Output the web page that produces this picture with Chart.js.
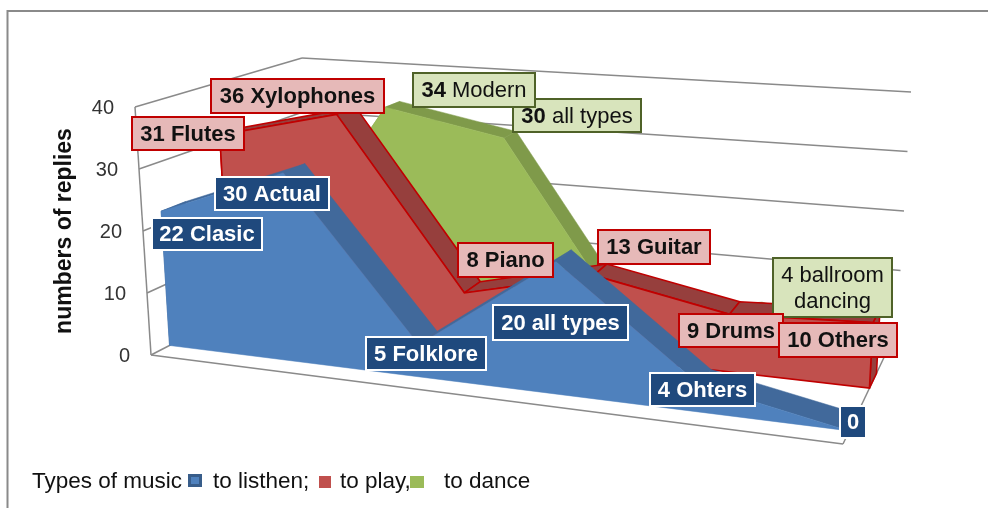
<!DOCTYPE html>
<html><head><meta charset="utf-8">
<style>html,body{margin:0;padding:0;background:#fff}canvas{display:block;filter:blur(0.45px)}</style>
<script src="https://cdn.jsdelivr.net/npm/chart.js@4/dist/chart.umd.min.js"></script>
</head><body><canvas id="c" width="988" height="508"></canvas>
<script>
// ---- data ----
const listenValues = [22, 30, 5, 20, 4, 0];
const playValues   = [31, 36, 8, 13, 9, 10];
const danceValues  = [5, 34, 30, 0, 4, 0];
const listenNames = ["Clasic", "Actual", "Folklore", "all types", "Ohters", ""];
const playNames   = ["Flutes", "Xylophones", "Piano", "Guitar", "Drums", "Others"];
const danceNames  = ["", "Modern", "all types", "", "ballroom|dancing", ""];
const tickValues  = [0, 10, 20, 30, 40];
const axisTitle = "numbers of replies";
const legendTitle = "Types of music";
const legendNames = ["to listhen;", "to play,", "to dance"];

// ---- 3D projection (walls of the box, maps category/value/depth to the flat scales) ----
const VMAX = 40, LAST = 5;
const floorFL = [151,355], floorFR = [843,444], floorBL = [312,272], floorBR = [897,330];
const riseFL = [-16,-248], riseFR = [14,-285], riseBL = [-10,-214], riseBR = [14,-238];
const lerp = (a,b,t)=>a+(b-a)*t;
const lerp2 = (a,b,t)=>[lerp(a[0],b[0],t),lerp(a[1],b[1],t)];
function project(cat, value, depth){
  const n = cat/LAST, u = n*(1-0.135*(1-n));
  const base = lerp2(lerp2(floorFL,floorFR,u),lerp2(floorBL,floorBR,u),depth);
  const rise = lerp2(lerp2(riseFL,riseFR,u),lerp2(riseBL,riseBR,u),depth);
  const k = value/VMAX;
  return {x: base[0]+rise[0]*k, y: base[1]+rise[1]*k};
}

// ---- styles ----
const GRID = "#8a8a8a";
const seriesStyles = [
  {values: danceValues,  d0:.82,  d1:.92, face:"#9bbb59", band:"#7f9a4a", line:null},
  {values: playValues,   d0:.49,  d1:.62, face:"#c0504d", band:"#963f3d", line:"#c00000"},
  {values: listenValues, d0:.115, d1:.265, face:"#4f81bd", band:"#41699b", line:null}
];
const sets = [];
function addLine(points){
  sets.push({data:points, showLine:true, borderColor:GRID, borderWidth:1.5, pointRadius:0, fill:false, tension:0});
}
function addPoly(points, fill, line){
  sets.push({data:[...points, points[0]], showLine:true, borderColor:line||fill, borderWidth:line?1.6:0.5,
    backgroundColor:fill, pointRadius:0, fill:'shape', tension:0});
}
// walls
tickValues.forEach(v=>{
  addLine([project(0,v,1),project(LAST,v,1)]);
  addLine([project(0,v,0),project(0,v,1)]);
});
addLine([project(0,0,0),project(0,VMAX,0)]);
addLine([project(0,0,0),project(LAST,0,0)]);
addLine([project(LAST,0,0),project(LAST,0,1)]);
// areas, back to front
seriesStyles.forEach(s=>{
  const last = s.values.length-1;
  // right end face
  addPoly([project(last,0,s.d0),project(last,0,s.d1),project(last,s.values[last],s.d1),project(last,s.values[last],s.d0)], s.band, s.line);
  // left end face
  addPoly([project(0,0,s.d0),project(0,0,s.d1),project(0,s.values[0],s.d1),project(0,s.values[0],s.d0)], s.band, s.line);
  // top bands
  for(let i=0;i<last;i++){
    addPoly([project(i,s.values[i],s.d0),project(i+1,s.values[i+1],s.d0),project(i+1,s.values[i+1],s.d1),project(i,s.values[i],s.d1)], s.band, s.line);
  }
  // front face
  const front=[project(0,0,s.d0)];
  s.values.forEach((v,i)=>front.push(project(i,v,s.d0)));
  front.push(project(last,0,s.d0));
  addPoly(front, s.face, s.line);
});
sets.forEach((d,i)=>{d.order = sets.length-i; d.clip=false;});

// ---- data label boxes ----
const PINK={fill:"#e6b9b8",stroke:"#c00000",color:"#111",allBold:true};
const NAVY={fill:"#1f497d",stroke:"#ffffff",color:"#fff",allBold:true};
const PALE={fill:"#d8e4bc",stroke:"#4f6228",color:"#111",allBold:false};
const boxes=[
 [danceValues,danceNames,2,PALE,513,99,641,132],
 [danceValues,danceNames,1,PALE,413,73,535,107],
 [danceValues,danceNames,4,PALE,773,258,892,317],
 [playValues,playNames,0,PINK,132,117,244,150],
 [playValues,playNames,1,PINK,211,79,384,113],
 [playValues,playNames,2,PINK,458,243,553,277],
 [playValues,playNames,3,PINK,598,230,710,264],
 [playValues,playNames,4,PINK,679,314,783,347],
 [playValues,playNames,5,PINK,779,323,897,357],
 [listenValues,listenNames,0,NAVY,152,218,262,250],
 [listenValues,listenNames,1,NAVY,215,177,329,210],
 [listenValues,listenNames,2,NAVY,366,337,486,370],
 [listenValues,listenNames,3,NAVY,493,305,628,340],
 [listenValues,listenNames,4,NAVY,650,373,755,406],
 [listenValues,listenNames,5,NAVY,840,406,866,438]
];
const FONT='"Liberation Sans", Arial, sans-serif';
function drawRuns(ctx,runs,cx,y){
  let w=0;
  runs.forEach(r=>{ctx.font=(r.b?'bold ':'')+'22px '+FONT;r.w=ctx.measureText(r.t).width;w+=r.w;});
  let x=cx-w/2;
  runs.forEach(r=>{ctx.font=(r.b?'bold ':'')+'22px '+FONT;ctx.fillText(r.t,x,y);x+=r.w;});
}
const overlay={
  id:'overlay',
  beforeDraw(chart){
    const c=chart.ctx;c.save();
    c.fillStyle="#fff";c.fillRect(0,0,988,508);
    c.strokeStyle="#8a8a8a";c.lineWidth=2;
    c.beginPath();c.moveTo(7.5,508);c.lineTo(7.5,11);c.lineTo(988,11);c.stroke();
    c.restore();
  },
  afterDatasetsDraw(chart){
    const c=chart.ctx;c.save();
    c.textBaseline='middle';c.textAlign='left';
    // value axis
    c.fillStyle="#333";c.font='20px '+FONT;c.textAlign='right';
    tickValues.forEach(v=>{
      const p=project(0,v,0);
      c.fillText(String(v),p.x-21,p.y+1);
    });
    // axis title
    c.save();c.translate(71,231);c.rotate(-Math.PI/2);
    c.fillStyle="#111";c.font='bold 23px '+FONT;c.textAlign='center';c.textBaseline='alphabetic';
    c.fillText(axisTitle,0,0);c.restore();
    // boxes
    boxes.forEach(([vals,names,i,st,x0,y0,x1,y1])=>{
      c.fillStyle=st.fill;c.fillRect(x0,y0,x1-x0,y1-y0);
      c.strokeStyle=st.stroke;c.lineWidth=2;c.strokeRect(x0,y0,x1-x0,y1-y0);
      c.fillStyle=st.color;c.textAlign='left';c.textBaseline='middle';
      const cx=(x0+x1)/2,cy=(y0+y1)/2+1;
      const lines=names[i].split('|');
      const num=String(vals[i]);
      if(lines.length===1){
        const runs=[{t:num,b:true}];
        if(lines[0]) runs.push({t:' '+lines[0],b:st.allBold});
        drawRuns(c,runs,cx,cy);
      }else{
        drawRuns(c,[{t:num+' '+lines[0],b:false}],cx,cy-13);
        drawRuns(c,[{t:lines[1],b:false}],cx,cy+13);
      }
    });
    // legend
    c.fillStyle="#111";c.font='22.5px '+FONT;c.textAlign='left';c.textBaseline='alphabetic';
    c.fillText(legendTitle,32,488);
    const lx=[213,340,444];
    legendNames.forEach((t,i)=>c.fillText(t,lx[i],488));
    const sw=[[188,474,14,13,"#4f81bd","#385d8a"],[319,476,12,12,"#c0504d","#c0504d"],[410,476,14,12,"#9bbb59","#9bbb59"]];
    sw.forEach(([x,y,w,h,f,s])=>{
      c.fillStyle=s;c.fillRect(x,y,w,h);
      c.fillStyle=f;c.fillRect(x+3,y+3,w-6,h-6);
    });
    c.restore();
  }
};
new Chart(document.getElementById('c'),{
  type:'scatter',
  data:{datasets:sets},
  options:{
    responsive:false,animation:false,
    layout:{padding:0},
    plugins:{legend:{display:false},tooltip:{enabled:false},filler:{propagate:false}},
    scales:{
      x:{type:'linear',min:0,max:988,display:false},
      y:{type:'linear',min:0,max:508,reverse:true,display:false}
    }
  },
  plugins:[overlay]
});
</script></body></html>
